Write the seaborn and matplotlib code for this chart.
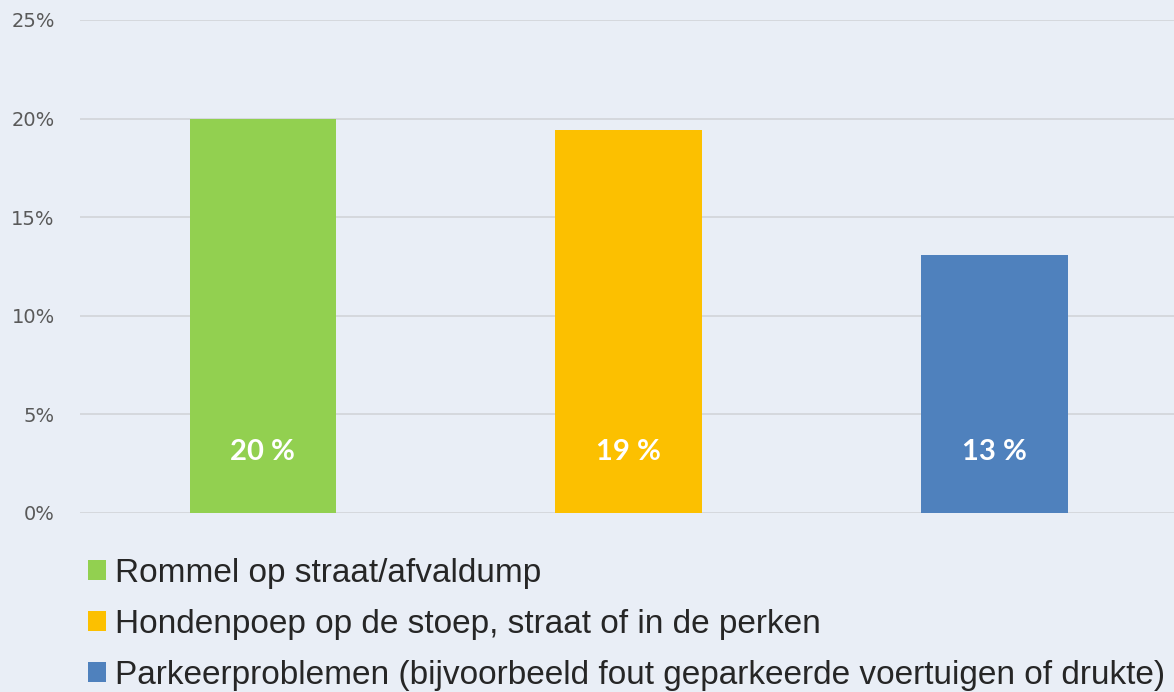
import matplotlib
matplotlib.use("Agg")
import matplotlib.pyplot as plt
import seaborn as sns
import pandas as pd
from matplotlib.ticker import FuncFormatter

categories = ["Rommel op straat/afvaldump",
              "Hondenpoep op de stoep, straat of in de perken",
              "Parkeerproblemen (bijvoorbeeld fout geparkeerde voertuigen of drukte)"]
values = [20.0, 19.4, 13.1]
labels = ["20 %", "19 %", "13 %"]
colors = ["#92d050", "#fcc000", "#4f81bd"]
yticks = [0, 5, 10, 15, 20, 25]

bg = "#e9eef6"
sns.set_theme(style="white")
plt.rcParams['font.family'] = ['Liberation Sans', 'DejaVu Sans']

df = pd.DataFrame({"cat": categories, "val": values})

fig = plt.figure(figsize=(11.74, 6.92), dpi=100, facecolor=bg)
ax = fig.add_axes([0.068, 0.2587, 0.935, 0.7124])
ax.set_facecolor(bg)

sns.barplot(data=df, x="cat", y="val", hue="cat", palette=colors, order=categories,
            hue_order=categories, width=0.4, dodge=False, legend=True, ax=ax,
            edgecolor="none", saturation=1)

ax.set_ylim(0, 25)
ax.set_xlim(-0.5, 2.5)
ax.set_yticks(yticks)
ax.yaxis.set_major_formatter(FuncFormatter(lambda v, p: f"{int(v)}%"))
ax.set_xticks([])
ax.set_xlabel("")
ax.set_ylabel("")
ax.grid(axis="y", color="#d3d6db", linewidth=1.3)
ax.set_axisbelow(True)
for s in ax.spines.values():
    s.set_visible(False)
ax.tick_params(axis="y", length=0, pad=18, labelsize=14, labelcolor="#595959")
for t in ax.get_yticklabels():
    t.set_fontfamily(["DejaVu Sans"])

for i, (v, lab) in enumerate(zip(values, labels)):
    ax.text(i, 3.1, lab, ha="center", va="center", color="white",
            fontsize=21, fontweight="bold", family=["Lato", "DejaVu Sans"])

leg = ax.get_legend()
handles = leg.legend_handles
leg.remove()
fig.legend(handles, categories, loc="upper left", bbox_to_anchor=(0.075, 0.194),
           frameon=False, fontsize=24, handlelength=0.55, handleheight=0.55,
           handletextpad=0.25, labelspacing=0.6, labelcolor="#262626",
           borderaxespad=0, borderpad=0)

fig.savefig("out.png", dpi=100, facecolor=bg)
